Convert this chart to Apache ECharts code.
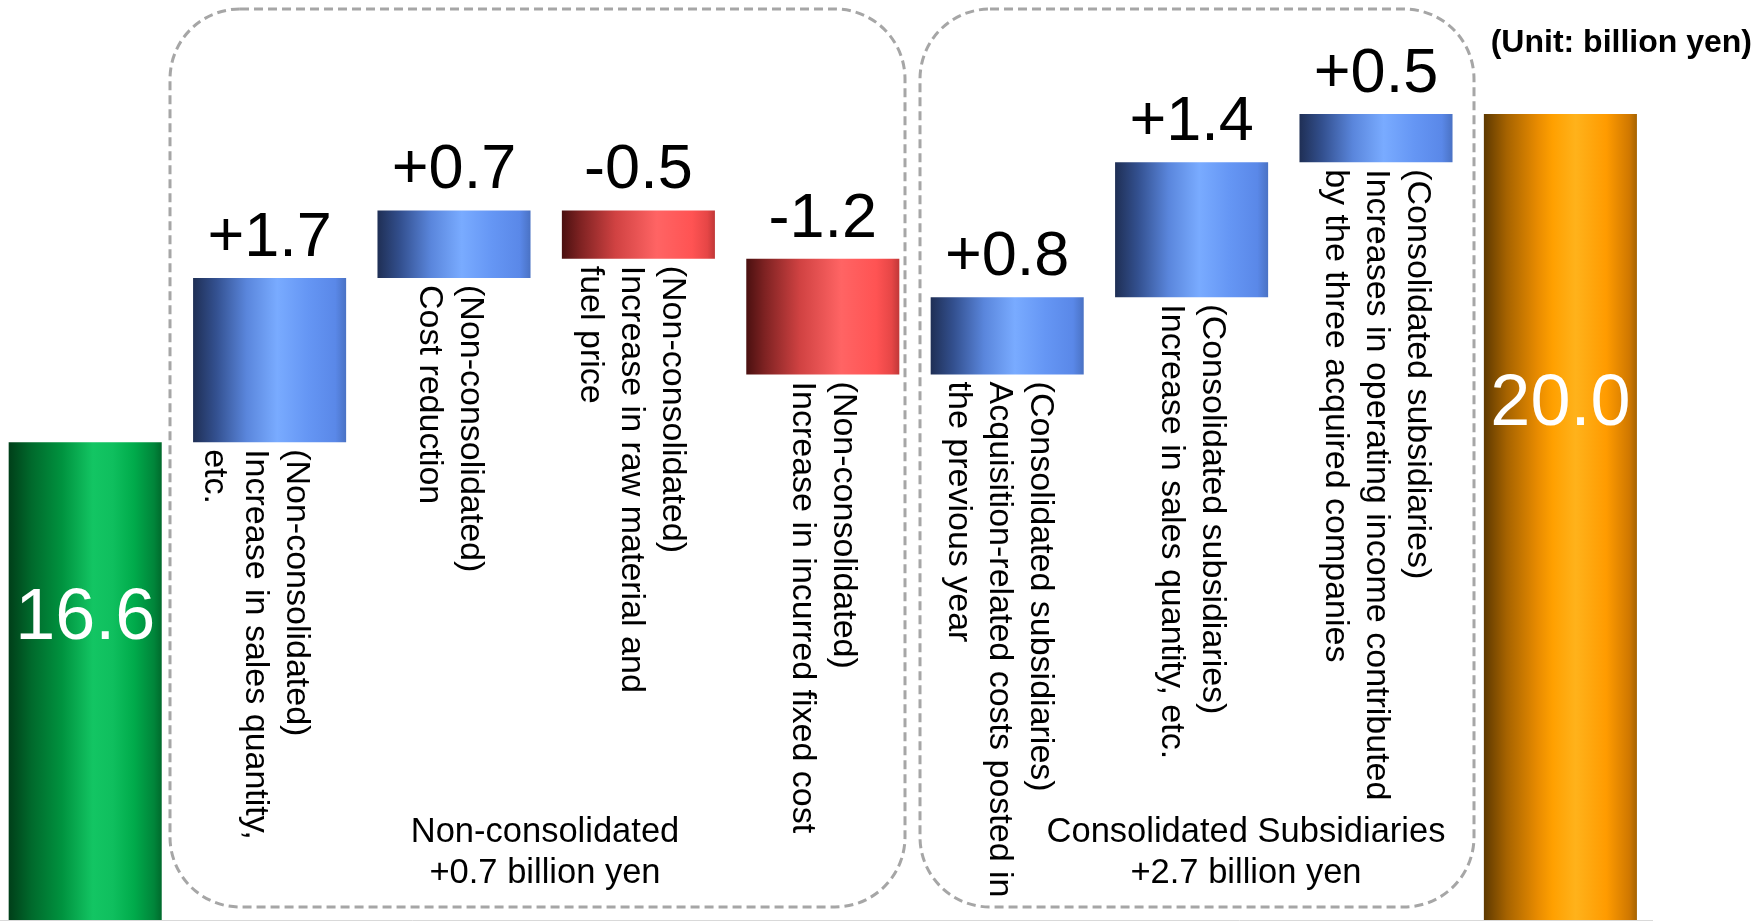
<!DOCTYPE html>
<html>
<head>
<meta charset="utf-8">
<script src="https://cdn.jsdelivr.net/npm/echarts@6/dist/echarts.min.js"></script>
<style>
  html, body { margin: 0; padding: 0; background: #ffffff; }
  #chart { width: 1756px; height: 922px; }
</style>
</head>
<body>
<div id="chart"></div>
<script>
// ---- Operating income bridge (billion yen) ----
const categories = [
  'Previous year',
  'Non-consolidated: sales quantity',
  'Non-consolidated: cost reduction',
  'Non-consolidated: raw material and fuel',
  'Non-consolidated: fixed cost',
  'Subsidiaries: acquisition-related costs',
  'Subsidiaries: sales quantity',
  'Subsidiaries: acquired companies',
  'Current year'
];
const startValue = 16.6;
const endValue = 20.0;
const changes = [1.7, 0.7, -0.5, -1.2, 0.8, 1.4, 0.5];
const descriptions = [
  '(Non-consolidated)\nIncrease in sales quantity,\netc.',
  '(Non-consolidated)\nCost reduction',
  '(Non-consolidated)\nIncrease in raw material and\nfuel price',
  '(Non-consolidated)\nIncrease in incurred fixed cost',
  '(Consolidated subsidiaries)\nAcquisition-related costs posted in\nthe previous year',
  '(Consolidated subsidiaries)\nIncrease in sales quantity, etc.',
  '(Consolidated subsidiaries)\nIncreases in operating income contributed\nby the three acquired companies'
];
const groupNames = ['Non-consolidated', 'Consolidated Subsidiaries'];
const groupTotals = [0.7, 2.7];
const unitText = '(Unit: billion yen)';

const FONT = '"Liberation Sans", Arial, Helvetica, sans-serif';
// leftward screen shift (px) of each vertical description block
const descriptionShiftLeft = [14, 4, 7, 0, 8, 0, 0];

function hGrad(stops) {
  return new echarts.graphic.LinearGradient(0, 0, 1, 0,
    stops.map(s => ({ offset: s[0], color: s[1] })));
}
const blueFill = hGrad([[0, '#1f2f55'], [0.15, '#33508f'], [0.35, '#5a86dc'], [0.55, '#79abff'], [0.75, '#6596f4'], [0.93, '#5a88e8'], [1, '#4a72c4']]);
const redFill = hGrad([[0, '#4a1010'], [0.12, '#7e2222'], [0.35, '#d04242'], [0.62, '#ff6464'], [0.85, '#ff5353'], [0.95, '#e64646'], [1, '#c03838']]);
const greenFill = hGrad([[0, '#003f19'], [0.15, '#006a2c'], [0.35, '#00933f'], [0.55, '#13c563'], [0.68, '#0fbf5e'], [0.82, '#00ab4b'], [0.95, '#00853a'], [1, '#006a2c']]);
const orangeFill = hGrad([[0, '#5e3900'], [0.15, '#a66300'], [0.35, '#e88b00'], [0.45, '#ffa000'], [0.6, '#ffb21b'], [0.8, '#ff9b00'], [0.95, '#d07800'], [1, '#a66300']]);

const r1 = v => Math.round(v * 10) / 10;
const fmtSigned = v => (v > 0 ? '+' : v < 0 ? '-' : '') + Math.abs(v).toFixed(1);

// invisible lower part of each floating bar, and the visible change on top of it
const baseData = ['-'];
const changeData = ['-'];
let running = startValue;
changes.forEach((c, i) => {
  const low = c >= 0 ? running : running + c;
  baseData.push({
    value: r1(low),
    // the label is rotated -90°, so its local +y axis points left on screen
    label: { formatter: descriptions[i], offset: [0, descriptionShiftLeft[i]] }
  });
  changeData.push({
    value: r1(Math.abs(c)),
    signed: c,
    itemStyle: { color: c >= 0 ? blueFill : redFill }
  });
  running = r1(running + c);
});
baseData.push('-');
changeData.push('-');

const totalData = categories.map(() => '-');
totalData[0] = {
  value: startValue,
  itemStyle: { color: greenFill },
  label: { position: ['50%', 177] }
};
totalData[categories.length - 1] = {
  value: endValue,
  itemStyle: { color: orangeFill },
  label: { position: ['50%', 291] }
};

const chart = echarts.init(document.getElementById('chart'), null, { renderer: 'canvas' });

chart.setOption({
  animation: false,
  backgroundColor: '#ffffff',
  grid: {
    left: -7, right: 103.4, top: 0, bottom: 2,
    containLabel: false,
    outerBoundsMode: 'none'
  },
  xAxis: {
    type: 'category',
    data: categories,
    axisLine: { show: true, lineStyle: { color: '#d9d9d9', width: 1 } },
    axisTick: { show: false },
    axisLabel: { show: false },
    splitLine: { show: false }
  },
  yAxis: {
    type: 'value',
    min: 11.65,
    max: 21.18,
    show: false,
    splitLine: { show: false }
  },
  series: [
    {
      name: 'base',
      type: 'bar',
      stack: 'bridge',
      barCategoryGap: '17%',
      silent: true,
      itemStyle: { color: 'transparent' },
      label: {
        show: true,
        position: 'insideTop',
        distance: 7,
        rotate: -90,
        align: 'left',
        verticalAlign: 'middle',
        color: '#000000',
        fontFamily: FONT,
        fontSize: 34,
        lineHeight: 41
      },
      data: baseData
    },
    {
      name: 'change',
      type: 'bar',
      stack: 'bridge',
      silent: true,
      label: {
        show: true,
        position: 'top',
        distance: 8,
        color: '#000000',
        fontFamily: FONT,
        fontSize: 63,
        formatter: p => fmtSigned(p.data.signed)
      },
      data: changeData
    },
    {
      name: 'total',
      type: 'bar',
      stack: 'bridge',
      silent: true,
      label: {
        show: true,
        align: 'center',
        verticalAlign: 'middle',
        color: '#ffffff',
        fontFamily: FONT,
        fontSize: 72,
        formatter: p => Number(p.value).toFixed(1)
      },
      data: totalData
    }
  ],
  graphic: [
    {
      type: 'rect',
      z: 0,
      silent: true,
      shape: { x: 170, y: 9, width: 735, height: 898, r: 70 },
      style: { fill: 'none', stroke: '#a6a6a6', lineWidth: 3, lineDash: [9, 5] }
    },
    {
      type: 'rect',
      z: 0,
      silent: true,
      shape: { x: 920, y: 9, width: 554, height: 898, r: 70 },
      style: { fill: 'none', stroke: '#a6a6a6', lineWidth: 3, lineDash: [9, 5] }
    },
    {
      type: 'text',
      silent: true,
      x: 545, y: 853,
      style: {
        text: groupNames[0] + '\n' + fmtSigned(groupTotals[0]) + ' billion yen',
        fill: '#000000',
        fontFamily: FONT, fontSize: 34.5, lineHeight: 41,
        align: 'center', verticalAlign: 'middle',
        textAlign: 'center', textVerticalAlign: 'middle'
      }
    },
    {
      type: 'text',
      silent: true,
      x: 1246, y: 853,
      style: {
        text: groupNames[1] + '\n' + fmtSigned(groupTotals[1]) + ' billion yen',
        fill: '#000000',
        fontFamily: FONT, fontSize: 34.5, lineHeight: 41,
        align: 'center', verticalAlign: 'middle',
        textAlign: 'center', textVerticalAlign: 'middle'
      }
    },
    {
      type: 'text',
      silent: true,
      x: 1752, y: 43,
      style: {
        text: unitText,
        fill: '#000000',
        fontFamily: FONT, fontSize: 32, fontWeight: 'bold',
        align: 'right', verticalAlign: 'middle',
        textAlign: 'right', textVerticalAlign: 'middle'
      }
    }
  ]
});
</script>
</body>
</html>
